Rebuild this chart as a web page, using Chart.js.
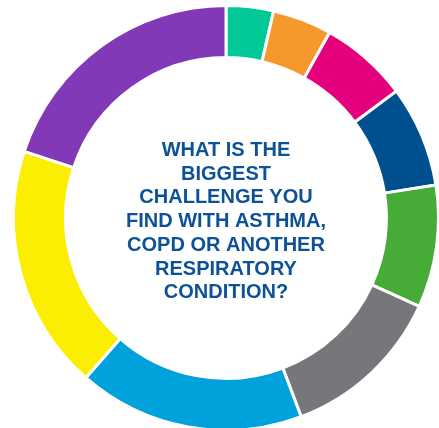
<!DOCTYPE html>
<html lang="en">
<head>
    <meta charset="UTF-8">
    <title>Biggest Challenge</title>
    <script src="https://cdn.jsdelivr.net/npm/chart.js"></script>
    <style>
        html, body { margin: 0; padding: 0; background: #fff; overflow: hidden; }
        .wrap { width: 452px; height: 436px; position: relative; }
    </style>
</head>
<body>
    <div class="wrap">
        <canvas id="challengeChart"></canvas>
    </div>

    <script>
        // Share of answers per segment, in percent, clockwise from the top
        const answers = ['Teal', 'Orange', 'Magenta', 'Navy', 'Green', 'Grey', 'Sky', 'Yellow', 'Purple'];
        const shares = [3.6, 4.5, 6.7, 7.7, 9.3, 12.4, 17.2, 18.6, 19.9];
        const colours = ['#00c897', '#f7982d', '#e5007d', '#004f8f', '#47ab38', '#76777a', '#00a2db', '#fbee00', '#8239b8'];

        const question = [
            'WHAT IS THE',
            'BIGGEST',
            'CHALLENGE YOU',
            'FIND WITH ASTHMA,',
            'COPD OR ANOTHER',
            'RESPIRATORY',
            'CONDITION?'
        ];

        // Question text written in the hole of the ring
        const centreText = {
            id: 'centreText',
            afterDraw(chart) {
                const ctx = chart.ctx;
                const arc = chart.getDatasetMeta(0).data[0];
                const cx = arc.x;
                ctx.save();
                ctx.fillStyle = '#0d5296';
                ctx.font = 'bold 20px "Liberation Sans", Arial, sans-serif';
                ctx.textAlign = 'center';
                ctx.textBaseline = 'alphabetic';
                question.forEach((line, i) => {
                    ctx.fillText(line, cx, 156 + i * 23.7);
                });
                ctx.restore();
            }
        };

        new Chart(document.getElementById('challengeChart'), {
            type: 'doughnut',
            data: {
                labels: answers,
                datasets: [{
                    data: shares,
                    backgroundColor: colours,
                    borderColor: '#ffffff',
                    borderWidth: 3,
                    hoverBorderWidth: 3
                }]
            },
            options: {
                responsive: true,
                maintainAspectRatio: false,
                animation: false,
                cutout: '75.5%',
                layout: {
                    padding: { left: 12, right: 12, top: 4, bottom: 4 }
                },
                plugins: {
                    legend: { display: false },
                    tooltip: { enabled: false }
                }
            },
            plugins: [centreText]
        });
    </script>
</body>
</html>
